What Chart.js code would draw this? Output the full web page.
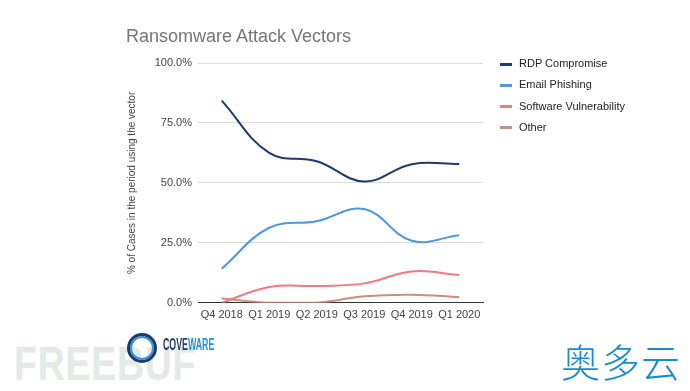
<!DOCTYPE html>
<html>
<head>
<meta charset="utf-8">
<script src="https://cdn.jsdelivr.net/npm/chart.js@4"></script>
<style>
  body { margin: 0; background: #fff; }
  #wrap { position: relative; width: 690px; height: 391px; overflow: hidden; font-family: "Liberation Sans", Arial, sans-serif; }
  #chart { position: absolute; left: 0; top: 0; }
  #title { position: absolute; left: 126px; top: 26px; font-size: 18px; color: #757575; }
  #legend { position: absolute; left: 500px; top: 55px; font-size: 11px; color: #222; }
  #legend div { height: 21.3px; line-height: 16px; }
  #legend span.mk { display: inline-block; width: 12px; height: 3px; margin-right: 7px; vertical-align: middle; }
  #freebuf { position: absolute; left: 14px; top: 336px; font-size: 48px; font-weight: bold; color: #e4eae6; letter-spacing: 1px; transform: scaleX(0.78); transform-origin: left top; }
  #logo { position: absolute; left: 127px; top: 333px; width: 24px; height: 24px; border-radius: 50%; border: 3px solid #1d3a6b; box-shadow: inset 0 0 0 2px #3a95d8; }
  #cove { position: absolute; left: 163px; top: 336px; font-weight: bold; font-size: 16px; color: #1d3a6b; transform: scaleX(0.55); transform-origin: left top; }
  #cove b { color: #2a8fd6; }
  #ady { position: absolute; left: 561px; top: 332px; font-family: "Noto Sans CJK SC", sans-serif; font-size: 39px; font-weight: 300; color: #1a8bd0; letter-spacing: 1px; }
</style>
</head>
<body>
<div id="wrap">
  <div id="freebuf">FREEBUF</div>
  <canvas id="chart" width="690" height="391"></canvas>
  <div id="title">Ransomware Attack Vectors</div>
  <div id="legend"></div>
  <div id="logo"></div>
  <div id="cove">COVE<b>WARE</b></div>
  <div id="ady">奥多云</div>
</div>
<script>
const quarters = ["Q4 2018", "Q1 2019", "Q2 2019", "Q3 2019", "Q4 2019", "Q1 2020"];
const seriesNames = ["RDP Compromise", "Email Phishing", "Software Vulnerability", "Other"];
const rdpCompromise = [84.3, 62.5, 59, 50.6, 57.8, 57.9];
const emailPhishing = [14.2, 31.3, 34, 39.1, 25.9, 28.2];
const softwareVuln = [0, 6.6, 7, 8.1, 13.1, 11.6];
const otherVector = [1.8, 0, 0, 2.7, 3.4, 2.4];
const yTicks = [0, 25, 50, 75, 100];
const colors = ["#1f3a6d", "#4f98dd", "#f07a80", "#c9917b"];

const allSeries = [rdpCompromise, emailPhishing, softwareVuln, otherVector];

// html legend
const legendEl = document.getElementById("legend");
seriesNames.forEach((name, i) => {
  const row = document.createElement("div");
  row.innerHTML = '<span class="mk" style="background:' + colors[i] + '"></span>' + name;
  legendEl.appendChild(row);
});

const ctx = document.getElementById("chart").getContext("2d");
new Chart(ctx, {
  type: "line",
  data: {
    labels: quarters,
    datasets: allSeries.map((data, i) => ({
      label: seriesNames[i],
      data: data,
      borderColor: colors[i],
      backgroundColor: colors[i],
      borderWidth: 2,
      pointRadius: 0,
      tension: 0.4,
      fill: false,
    })),
  },
  options: {
    responsive: false,
    animation: false,
    layout: { padding: { left: 126, right: 207, top: 63, bottom: 63 } },
    plugins: { legend: { display: false }, tooltip: { enabled: false } },
    scales: {
      x: {
        offset: true,
        grid: { display: false, drawTicks: false },
        border: { color: "#333", width: 1 },
        ticks: { color: "#444", font: { family: "Liberation Sans", size: 11 }, padding: 6, maxRotation: 0 },
      },
      y: {
        min: 0,
        max: 100,
        afterBuildTicks: (scale) => {
          scale.ticks = yTicks.map((v) => ({ value: v }));
        },
        afterFit: (scale) => {
          scale.width = 72;
        },
        grid: { color: "#dcdcdc", drawTicks: false },
        border: { display: false },
        ticks: {
          color: "#444",
          font: { family: "Liberation Sans", size: 11 },
          padding: 6,
          callback: (v) => v.toFixed(1) + "%",
        },
        title: {
          display: true,
          text: "% of Cases in the period using the vector",
          color: "#444",
          font: { family: "Liberation Sans", size: 10 },
          padding: { top: 0, bottom: 0 },
        },
      },
    },
  },
});
</script>
</body>
</html>
